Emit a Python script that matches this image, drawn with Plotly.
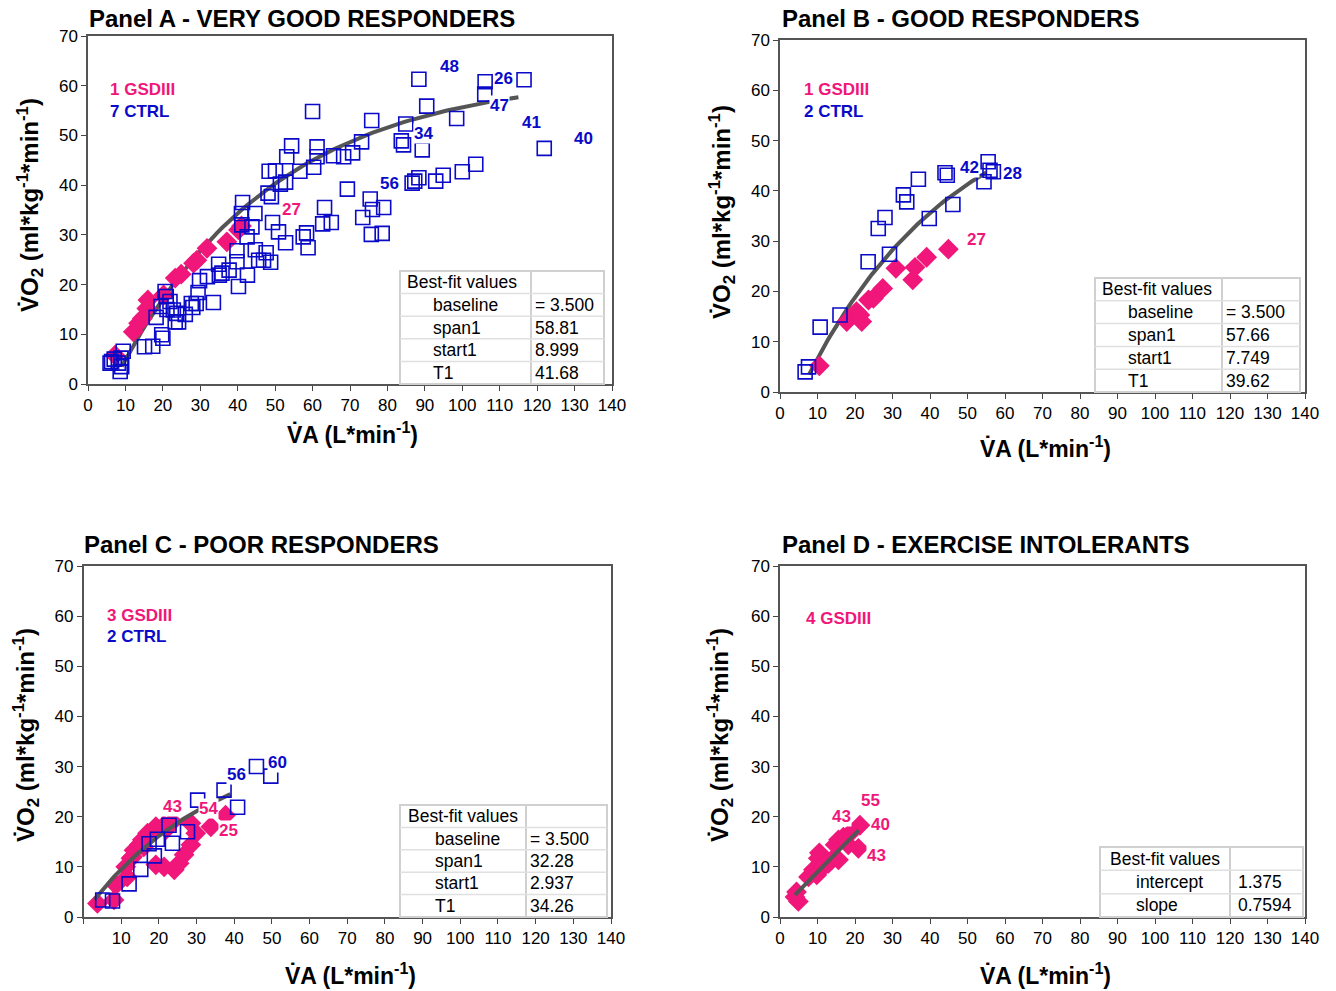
import numpy as np
import plotly.graph_objects as go

W, H = 1336, 991
PINK = "#F0167A"
BLUE = "#0A0AC8"
FONT = "Arial, Liberation Sans, sans-serif"

# ---------------- DATA ----------------
# Panel A - very good responders
A_ctrl_x = [41.1, 43.8, 42.5, 39.8, 44.7, 45.6, 39.8, 34.9, 37.7, 35.1, 31.9, 42.6, 29.8, 40.2,
            29.4, 28.9, 27.6, 28.0, 33.5, 20.6, 20.9, 21.9, 19.5, 21.1, 22.8, 23.7, 26.0, 18.2,
            23.3, 24.2, 19.7, 20.0, 15.1, 17.3, 9.4, 6.3, 8.1, 9.0, 8.6, 5.9, 7.0, 8.8,
            60.0, 75.8, 84.9, 83.7, 84.3, 54.4, 61.2, 53.1, 61.2, 65.6, 68.3, 70.7, 73.1, 60.3,
            56.6, 48.4, 50.1, 52.8, 51.4, 48.1, 49.0, 69.3, 75.4, 76.0, 79.0, 73.4, 75.7, 78.6,
            87.3, 41.3, 41.0, 44.6, 63.2, 62.7, 65.0, 50.9, 52.8, 58.4, 57.5, 58.8, 47.6, 46.9,
            48.8, 49.3, 35.8, 88.4, 90.5, 98.5, 106.1, 116.5, 89.3, 121.9, 103.6, 100.0, 94.9,
            92.9, 88.4, 86.6, 106.0]
A_ctrl_y = [32.0, 31.6, 29.6, 26.8, 27.0, 24.9, 24.6, 24.1, 22.9, 21.9, 21.6, 21.9, 20.8, 19.6,
            18.4, 16.2, 16.2, 15.4, 16.4, 18.6, 17.6, 16.6, 15.6, 15.0, 14.9, 14.2, 14.0, 13.4,
            12.5, 12.5, 9.9, 9.2, 7.5, 7.6, 6.6, 4.5, 4.2, 3.5, 2.5, 4.2, 5.0, 5.2,
            54.8, 53.0, 52.3, 48.9, 48.1, 47.9, 47.7, 45.7, 45.7, 45.9, 45.7, 46.5, 48.7, 43.6,
            42.8, 42.8, 42.9, 40.6, 40.2, 38.4, 37.7, 39.2, 37.2, 35.1, 35.5, 33.5, 30.1, 30.3,
            40.8, 36.5, 34.3, 34.3, 35.5, 32.2, 32.5, 30.6, 28.4, 30.4, 29.6, 27.4, 26.4, 24.9,
            24.5, 32.5, 22.3, 61.3, 55.9, 53.4, 60.8, 61.2, 47.1, 47.4, 44.2, 42.7, 42.0,
            40.8, 41.5, 40.4, 58.3]
A_gsd_x = [7.2, 12.1, 13.5, 14.5, 15.7, 16.0, 20.2, 23.3, 24.9, 28.2, 29.1, 31.8, 37.1, 40.2, 41.0]
A_gsd_y = [5.8, 10.5, 12.2, 13.2, 15.2, 16.9, 17.9, 21.3, 22.1, 24.3, 24.9, 27.3, 28.6, 31.0, 31.8]

# Panel B - good responders
B_ctrl_x = [6.7, 7.6, 10.7, 16.0, 23.5, 26.2, 28.0, 29.2, 32.9, 33.8, 36.9, 39.8, 44.0, 44.6,
            46.1, 54.4, 56.0, 56.9, 55.5]
B_ctrl_y = [4.0, 5.0, 12.9, 15.3, 25.9, 32.5, 34.7, 27.4, 39.2, 37.8, 42.3, 34.5, 43.6, 43.1,
            37.3, 41.8, 44.1, 43.8, 45.8]
B_gsd_x = [10.5, 17.8, 20.4, 21.3, 21.8, 23.6, 24.9, 27.4, 30.9, 35.4, 36.0, 39.1, 44.9]
B_gsd_y = [5.2, 14.0, 16.0, 15.3, 14.0, 18.3, 18.6, 20.6, 24.6, 22.3, 24.8, 26.8, 28.4]

# Panel C - poor responders
C_ctrl_x = [5.1, 7.7, 12.1, 15.2, 17.4, 19.6, 18.8, 23.6, 22.7, 27.6, 30.3, 37.3, 40.9, 45.9, 49.7]
C_ctrl_y = [3.4, 3.2, 6.6, 9.5, 14.6, 15.5, 12.2, 14.7, 18.3, 17.0, 23.3, 25.3, 21.9, 30.0, 28.1]
C_gsd_x = [3.7, 8.1, 8.6, 11.6, 11.2, 12.6, 13.4, 14.8, 15.6, 17.0, 19.2, 21.4, 23.6,
           19.2, 21.4, 24.1, 25.4, 26.7, 28.5, 29.8, 28.5, 33.8, 37.7, 13.0, 16.0, 22.0]
C_gsd_y = [2.7, 3.4, 6.4, 8.0, 10.0, 11.7, 13.3, 14.4, 15.4, 16.7, 18.0, 18.3, 19.0,
           10.4, 10.0, 9.4, 10.7, 12.4, 14.4, 16.7, 18.7, 18.0, 20.3, 12.0, 14.0, 17.5]

# Panel D - exercise intolerants
D_gsd_x = [4.0, 4.9, 4.4, 7.6, 8.9, 9.8, 10.5, 10.2, 11.6, 12.9, 13.8, 14.7, 15.6, 16.9,
           15.6, 18.2, 20.9, 21.3, 18.7]
D_gsd_y = [4.0, 3.1, 5.0, 8.0, 9.4, 8.4, 12.8, 11.7, 10.0, 10.7, 11.4, 14.4, 15.4, 15.9,
           11.4, 14.4, 13.7, 18.3, 16.7]

# Best-fit parameters (one-phase association / linear)
A_fit = {"baseline": 3.500, "span1": 58.81, "start1": 8.999, "T1": 41.68}
B_fit = {"baseline": 3.500, "span1": 57.66, "start1": 7.749, "T1": 39.62}
C_fit = {"baseline": 3.500, "span1": 32.28, "start1": 2.937, "T1": 34.26}
D_fit = {"intercept": 1.375, "slope": 0.7594}
A_fit_end, B_fit_end, C_fit_end = 115, 55, 39
D_fit_range = (4.0, 21.0)

# Point labels (subject ids)
A_labels = [("48", 96.6, 63.8, BLUE), ("26", 111.1, 61.4, BLUE), ("47", 110.0, 56.1, BLUE),
            ("41", 118.6, 52.7, BLUE), ("40", 132.5, 49.3, BLUE), ("34", 89.7, 50.3, BLUE),
            ("56", 80.6, 40.4, BLUE), ("27", 54.3, 35.0, PINK)]
B_labels = [("42", 50.4, 44.7, BLUE), ("28", 62.1, 43.5, BLUE), ("27", 52.5, 30.4, PINK)]
C_labels = [("43", 23.6, 22.1, PINK), ("54", 33.1, 21.7, PINK), ("25", 38.4, 17.3, PINK),
            ("56", 40.5, 28.5, BLUE), ("60", 51.4, 30.9, BLUE)]
D_labels = [("55", 24.0, 23.3, PINK), ("43", 16.5, 20.0, PINK), ("40", 26.7, 18.5, PINK),
            ("43", 25.6, 12.2, PINK)]

x_ticks = list(range(0, 141, 10))
y_ticks = list(range(0, 71, 10))


def phase(p, x):
    x = np.asarray(x)
    return p["baseline"] + p["span1"] * (1 - np.exp(-(x - p["start1"]) / p["T1"]))


def X(px):
    return px / W


def Y(py):
    return 1 - py / H


fig = go.Figure()

# panel geometry in pixels: (left, right, top, bottom)
panels = {
    "A": dict(ax="", box=(88, 612, 36, 384)),
    "B": dict(ax="2", box=(780, 1305, 40, 392)),
    "C": dict(ax="3", box=(83.5, 611, 566, 917)),
    "D": dict(ax="4", box=(780, 1305, 566, 917)),
}


def add_points(ax, cx, cy, gx, gy):
    if gx:
        fig.add_trace(go.Scatter(x=gx, y=gy, mode="markers", xaxis="x" + ax, yaxis="y" + ax,
                                 marker=dict(symbol="diamond", size=16, color=PINK, line=dict(width=0)),
                                 showlegend=False))
    if cx:
        fig.add_trace(go.Scatter(x=cx, y=cy, mode="markers", xaxis="x" + ax, yaxis="y" + ax,
                                 marker=dict(symbol="square-open", size=14, color=BLUE, line=dict(width=1.6)),
                                 showlegend=False))


def add_line(ax, x, y):
    fig.add_trace(go.Scatter(x=x, y=y, mode="lines", xaxis="x" + ax, yaxis="y" + ax,
                             line=dict(color="#555555", width=4), showlegend=False))


# Panel A
xa = np.linspace(A_fit["start1"], A_fit_end, 80)
add_line("", xa, phase(A_fit, xa))
add_points("", A_ctrl_x, A_ctrl_y, A_gsd_x, A_gsd_y)
# Panel B
xb = np.linspace(B_fit["start1"], B_fit_end, 60)
add_line("2", xb, phase(B_fit, xb))
add_points("2", B_ctrl_x, B_ctrl_y, B_gsd_x, B_gsd_y)
# Panel C
add_points("3", [], [], C_gsd_x, C_gsd_y)
xc = np.linspace(C_fit["start1"], C_fit_end, 60)
add_line("3", xc, phase(C_fit, xc))
add_points("3", C_ctrl_x, C_ctrl_y, [], [])
# Panel D
add_points("4", [], [], D_gsd_x, D_gsd_y)
xd = np.array(D_fit_range)
add_line("4", xd, D_fit["intercept"] + D_fit["slope"] * xd)

layout = dict(width=W, height=H, autosize=False, margin=dict(l=0, r=0, t=0, b=0, pad=0, autoexpand=False),
              paper_bgcolor="white", plot_bgcolor="white",
              font=dict(family=FONT, color="black"))
for name, p in panels.items():
    l, r, t, b = p["box"]
    ax = p["ax"]
    ticktext = [str(v) for v in x_ticks]
    if name == "C":
        ticktext[0] = ""
    layout["xaxis" + ax] = dict(domain=[X(l), X(r)], range=[0, 140], anchor="y" + ax,
                                tickvals=x_ticks, ticktext=ticktext, ticks="outside", ticklen=5,
                                tickcolor="#444", showline=True, linecolor="#555", linewidth=1.5,
                                mirror=True, showgrid=False, zeroline=False, automargin=False,
                                tickfont=dict(size=17, family=FONT))
    layout["yaxis" + ax] = dict(domain=[Y(b), Y(t)], range=[0, 70], anchor="x" + ax,
                                tickvals=y_ticks, ticks="outside", ticklen=5, tickcolor="#444",
                                showline=True, linecolor="#555", linewidth=1.5, mirror=True,
                                showgrid=False, zeroline=False, automargin=False,
                                tickfont=dict(size=17, family=FONT))
fig.update_layout(**layout)

ann = []
shapes = []

titles = [("Panel A - VERY GOOD RESPONDERS", 87, 19), ("Panel B - GOOD RESPONDERS", 780, 19),
          ("Panel C - POOR RESPONDERS", 82, 544), ("Panel D - EXERCISE INTOLERANTS", 780, 544)]
for txt, x, y in titles:
    ann.append(dict(text="<b>%s</b>" % txt, x=X(x), y=Y(y), xref="paper", yref="paper",
                    xanchor="left", yanchor="middle", showarrow=False,
                    font=dict(size=24, family=FONT, color="black")))

xtitle = "<b>V\u0307A (L*min<sup>-1</sup>)</b>"
ytitle = "<b>V\u0307O<sub>2</sub> (ml*kg<sup>-1</sup>*min<sup>-1</sup>)</b>"
for x, y in [(352, 433), (1045, 447), (350, 974), (1045, 974)]:
    ann.append(dict(text=xtitle, x=X(x), y=Y(y), xref="paper", yref="paper", showarrow=False,
                    xanchor="center", yanchor="middle", font=dict(size=23, family=FONT)))
for x, y in [(30, 205), (722, 212), (26, 735), (720, 735)]:
    ann.append(dict(text=ytitle, x=X(x), y=Y(y), xref="paper", yref="paper", showarrow=False,
                    textangle=-90, xanchor="center", yanchor="middle", font=dict(size=24, family=FONT)))

# group legends inside panels
legends = [("1 GSDIII", PINK, 108, 90), ("7 CTRL", BLUE, 108, 111),
           ("1 GSDIII", PINK, 802, 90), ("2 CTRL", BLUE, 802, 111),
           ("3 GSDIII", PINK, 105, 615), ("2 CTRL", BLUE, 105, 636),
           ("4 GSDIII", PINK, 804, 618)]
for txt, c, x, y in legends:
    ann.append(dict(text="<b>%s</b>" % txt, x=X(x), y=Y(y), xref="paper", yref="paper",
                    xanchor="left", yanchor="middle", showarrow=False,
                    font=dict(size=17, family=FONT, color=c)))

for ax, labels in [("", A_labels), ("2", B_labels), ("3", C_labels), ("4", D_labels)]:
    for txt, x, y, c in labels:
        ann.append(dict(text="<b>%s</b>" % txt, x=x, y=y, xref="x" + ax, yref="y" + ax,
                        showarrow=False, xanchor="center", yanchor="middle", bgcolor="white",
                        borderpad=0, font=dict(size=17, family=FONT, color=c)))


def table(left, split, right, top, bottom, rows, lab_x, val_x, head_x):
    n = len(rows) + 1
    shapes.append(dict(type="rect", xref="paper", yref="paper", x0=X(left), x1=X(right),
                       y0=Y(bottom), y1=Y(top), line=dict(color="#d0d0d0", width=2),
                       fillcolor="white", layer="above"))
    shapes.append(dict(type="line", xref="paper", yref="paper", x0=X(split), x1=X(split),
                       y0=Y(bottom), y1=Y(top), line=dict(color="#d0d0d0", width=2), layer="above"))
    h = (bottom - top) / n
    for i in range(1, n):
        yy = top + i * h
        shapes.append(dict(type="line", xref="paper", yref="paper", x0=X(left), x1=X(right),
                           y0=Y(yy), y1=Y(yy), line=dict(color="#e0e0e0", width=1.5), layer="above"))
    ann.append(dict(text="Best-fit values", x=X(head_x), y=Y(top + h / 2), xref="paper", yref="paper",
                    xanchor="left", yanchor="middle", showarrow=False,
                    font=dict(size=17.5, family=FONT, color="black")))
    for i, (k, v) in enumerate(rows):
        yc = top + (i + 1.5) * h
        ann.append(dict(text=k, x=X(lab_x), y=Y(yc), xref="paper", yref="paper", xanchor="left",
                        yanchor="middle", showarrow=False, font=dict(size=17.5, family=FONT)))
        ann.append(dict(text=v, x=X(val_x), y=Y(yc), xref="paper", yref="paper", xanchor="left",
                        yanchor="middle", showarrow=False, font=dict(size=17.5, family=FONT)))


def rows_of(p):
    return [("baseline", "= %.3f" % p["baseline"]), ("span1", "%.2f" % p["span1"]),
            ("start1", ("%.3f" % p["start1"]) if p["start1"] < 10 else "%.2f" % p["start1"]),
            ("T1", "%.2f" % p["T1"])]


table(400, 531, 604, 271, 384, rows_of(A_fit), 431, 533, 405)
table(1095, 1222, 1300, 278, 392, rows_of(B_fit), 1126, 1224, 1100)
table(400, 526, 607, 805, 917, rows_of(C_fit), 433, 528, 406)
table(1100, 1230, 1303, 847, 917, [("intercept", "%.3f" % D_fit["intercept"]),
                                   ("slope", "%.4f" % D_fit["slope"])], 1134, 1236, 1108)

fig.update_layout(annotations=ann, shapes=shapes)
fig.write_html("out.html", config={"responsive": False, "displayModeBar": False},
               post_script="document.body.style.margin='0';document.body.style.overflow='hidden';")
